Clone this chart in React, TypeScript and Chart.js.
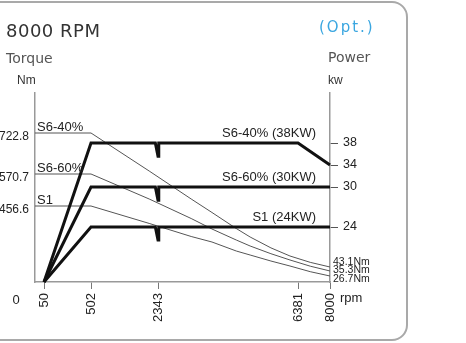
import React, { useEffect, useRef } from "react";
import { Chart, registerables, LinearScale } from "chart.js";

// ---------- data ----------
const rpmTicks = [50, 502, 2343, 6381, 8000];
const torqueTicks = [456.6, 570.7, 722.8];
const powerTicks = [24, 30, 34, 38];

const rpmSamples = [0, 502, 2100, 3300, 3900, 4600, 5000, 5600, 6150, 7000, 8000];
const torqueS640 = [722.8, 722.8, 581.8, 481.6, 417.6, 321.4, 270.4, 205, 156.2, 118, 90.1];
const torqueS660 = [570.7, 570.7, 481.6, 381.5, 318.4, 252.3, 216.3, 170, 132.2, 95, 66.1];
const torqueS1 = [456.6, 456.6, 352, 273.4, 240.3, 186.2, 162.2, 126, 96.1, 62, 36];

const powerRpm40 = [50, 502, 2270, 2343, 2365, 6381, 8000];
const powerS640 = [0, 38, 38, 35.6, 38, 38, 34];
const powerRpm = [50, 502, 2270, 2343, 2365, 8000];
const powerS660 = [0, 30, 30, 28, 30, 30];
const powerS1 = [0, 24, 24, 18.3, 24, 24];

const seriesNames = ["S6-40%", "S6-60%", "S1"];
const powerNames = ["S6-40% (38KW)", "S6-60% (30KW)", "S1 (24KW)"];
const endTorqueLabels = ["43.1Nm", "35.3Nm", "26.7Nm"];

// ---------- schematic (non-linear) axis geometry ----------
const AXIS_BREAKS: Record<string, { v: number[]; f: number[] }> = {
  x: { v: [0, 50, 502, 2343, 6381, 8000], f: [0, 9, 56, 123, 263, 295].map((p) => p / 295) },
  yT: { v: [0, 456.6, 570.7, 722.8, 900], f: [0, 76, 108, 149, 189].map((p) => p / 189) },
  yP: { v: [0, 24, 30, 34, 38, 50], f: [0, 55, 95, 117, 139, 189].map((p) => p / 189) },
};

class PiecewiseScale extends LinearScale {
  static id = "piecewise";
  getPixelForValue(value: number) {
    const m = AXIS_BREAKS[(this as any).id];
    const v = m.v, f = m.f;
    let i = 0;
    while (i < v.length - 2 && value > v[i + 1]) i++;
    const t = (value - v[i]) / (v[i + 1] - v[i]);
    return (this as any).getPixelForDecimal(f[i] + t * (f[i + 1] - f[i]));
  }
  getValueForPixel(pixel: number) {
    const m = AXIS_BREAKS[(this as any).id];
    const v = m.v, f = m.f;
    const d = (this as any).getDecimalForPixel(pixel);
    let i = 0;
    while (i < f.length - 2 && d > f[i + 1]) i++;
    const t = (d - f[i]) / (f[i + 1] - f[i]);
    return v[i] + t * (v[i + 1] - v[i]);
  }
}

Chart.register(...registerables, PiecewiseScale as any);

const LABEL_FONT = '"Liberation Sans", Arial, sans-serif';
const HEAD_FONT = '"DejaVu Sans", sans-serif';

const pts = (xs: number[], ys: number[]) => xs.map((x, i) => ({ x, y: ys[i] }));

const annotate = {
  id: "annotate",
  afterDraw(chart: any) {
    const { ctx, chartArea } = chart;
    const { x, yT, yP } = chart.scales;
    ctx.save();
    ctx.fillStyle = "#222";
    ctx.font = `13px ${LABEL_FONT}`;
    ctx.textBaseline = "alphabetic";
    const starts = [torqueS640[0], torqueS660[0], torqueS1[0]];
    ctx.textAlign = "left";
    seriesNames.forEach((n, i) => ctx.fillText(n, chartArea.left + 2, yT.getPixelForValue(starts[i]) - 2));
    const flats = [powerS640[1], powerS660[1], powerS1[1]];
    ctx.textAlign = "right";
    powerNames.forEach((n, i) => ctx.fillText(n, chartArea.right - 14, yP.getPixelForValue(flats[i]) - 6));
    const last = rpmSamples.length - 1;
    const ends = [torqueS640[last], torqueS660[last], torqueS1[last]];
    const shift = [-5, -1, 3];
    ctx.font = `10.5px ${LABEL_FONT}`;
    ctx.textAlign = "left";
    ctx.textBaseline = "middle";
    endTorqueLabels.forEach((n, i) => ctx.fillText(n, chartArea.right + 3, yT.getPixelForValue(ends[i]) + shift[i]));
    ctx.font = `13px ${LABEL_FONT}`;
    ctx.fillText("rpm", chartArea.right + 10, chartArea.bottom + 16);
    ctx.textAlign = "center";
    ctx.fillText("0", chartArea.left - 19, chartArea.bottom + 18);
    ctx.restore();
  },
};

export default function App() {
  const ref = useRef<HTMLCanvasElement>(null);

  useEffect(() => {
    if (!ref.current) return;
    const thin = { borderColor: "#555", borderWidth: 1, pointRadius: 0, tension: 0, clip: false as any, yAxisID: "yT" };
    const thick = { borderColor: "#111", borderWidth: 3, pointRadius: 0, tension: 0, borderJoinStyle: "miter" as const, clip: false as any, yAxisID: "yP" };
    const chart = new Chart(ref.current, {
      type: "line",
      data: {
        datasets: [
          { label: "S6-40% (38KW)", data: pts(powerRpm40, powerS640), ...thick },
          { label: "S6-60% (30KW)", data: pts(powerRpm, powerS660), ...thick },
          { label: "S1 (24KW)", data: pts(powerRpm, powerS1), ...thick },
          { label: "S6-40%", data: pts(rpmSamples, torqueS640), ...thin },
          { label: "S6-60%", data: pts(rpmSamples, torqueS660), ...thin },
          { label: "S1", data: pts(rpmSamples, torqueS1), ...thin },
        ] as any,
      },
      options: {
        responsive: false,
        animation: false,
        devicePixelRatio: 1,
        events: [],
        layout: { padding: { top: 93, right: 86, bottom: 21, left: 0 } },
        plugins: { legend: { display: false }, tooltip: { enabled: false } },
        scales: {
          x: {
            type: "piecewise" as any,
            position: "bottom",
            min: 0,
            max: 8000,
            afterBuildTicks: (s: any) => { s.ticks = rpmTicks.map((value) => ({ value })); },
            afterFit: (s: any) => { s.height = 40; },
            grid: { display: true, drawOnChartArea: false, drawTicks: true, tickLength: 7, color: "#777", lineWidth: 1 },
            border: { display: true, color: "#999", width: 1.5 },
            ticks: { autoSkip: false, minRotation: 90, maxRotation: 90, padding: 4, color: "#222", font: { family: LABEL_FONT, size: 13 }, callback: (v: any) => String(v) },
          } as any,
          yT: {
            type: "piecewise" as any,
            position: "left",
            min: 0,
            max: 900,
            afterBuildTicks: (s: any) => { s.ticks = torqueTicks.map((value) => ({ value })); },
            afterFit: (s: any) => { s.width = 35; },
            grid: { display: false, drawTicks: false },
            border: { display: true, color: "#999", width: 1.5 },
            ticks: { padding: 6, labelOffset: 4, color: "#222", font: { family: LABEL_FONT, size: 12 }, callback: (v: any) => String(v) },
          } as any,
          yP: {
            type: "piecewise" as any,
            position: "right",
            min: 0,
            max: 50,
            afterBuildTicks: (s: any) => { s.ticks = powerTicks.map((value) => ({ value })); },
            afterFit: (s: any) => { s.width = 50; },
            grid: { display: true, drawOnChartArea: false, drawTicks: true, tickLength: 8, color: "#555", lineWidth: 1 },
            border: { display: true, color: "#999", width: 1.5 },
            ticks: { padding: 5, color: "#222", font: { family: LABEL_FONT, size: 12.5 }, callback: (v: any) => String(v) },
          } as any,
        },
      },
      plugins: [annotate],
    });
    return () => chart.destroy();
  }, []);

  const text = (s: React.CSSProperties): React.CSSProperties => ({ position: "absolute", whiteSpace: "nowrap", lineHeight: 1, margin: 0, ...s });

  return (
    <div style={{ position: "fixed", left: 0, top: 0, width: 466, height: 343, overflow: "hidden", background: "#fff" }}>
      <div style={{ position: "absolute", left: -30, top: 1, width: 438, height: 340, border: "2px solid #a9a9a9", borderRadius: 16, boxSizing: "border-box" }} />
      <canvas ref={ref} width={466} height={343} style={{ position: "absolute", left: 0, top: 0, width: 466, height: 343 }} />
      <div style={text({ left: 6, top: 22, fontFamily: HEAD_FONT, fontSize: 18, color: "#333", letterSpacing: 0.5 })}>8000 RPM</div>
      <div style={text({ left: 6, top: 51, fontFamily: HEAD_FONT, fontSize: 14, color: "#555" })}>Torque</div>
      <div style={text({ left: 17, top: 74, fontFamily: LABEL_FONT, fontSize: 12, color: "#333" })}>Nm</div>
      <div style={text({ left: 319, top: 20, fontFamily: HEAD_FONT, fontSize: 15, color: "#3aa6e0", letterSpacing: 2 })}>(Opt.)</div>
      <div style={text({ left: 328, top: 50, fontFamily: HEAD_FONT, fontSize: 14, color: "#555" })}>Power</div>
      <div style={text({ left: 328, top: 74, fontFamily: LABEL_FONT, fontSize: 12, color: "#333" })}>kw</div>
    </div>
  );
}
